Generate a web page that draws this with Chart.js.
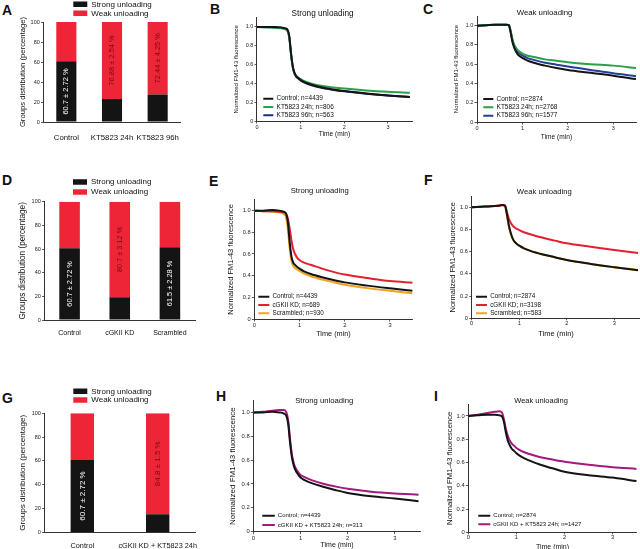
<!DOCTYPE html>
<html><head><meta charset="utf-8">
<script src="https://cdn.jsdelivr.net/npm/chart.js@4.4.0/dist/chart.umd.min.js"></script>
<style>
html,body{margin:0;padding:0;background:#fff;width:640px;height:549px;overflow:hidden;position:relative}
canvas{position:absolute}
.lbl{position:absolute;font:bold 14px "Liberation Sans",Arial,sans-serif;color:#111;line-height:14px}
</style></head><body>
<div class="lbl" style="left:2px;top:3px">A</div>
<div class="lbl" style="left:210px;top:2px">B</div>
<div class="lbl" style="left:423px;top:2px">C</div>
<div class="lbl" style="left:2px;top:173px">D</div>
<div class="lbl" style="left:209px;top:174px">E</div>
<div class="lbl" style="left:424px;top:173px">F</div>
<div class="lbl" style="left:2px;top:391px">G</div>
<div class="lbl" style="left:216px;top:389px">H</div>
<div class="lbl" style="left:434px;top:389px">I</div>
<canvas id="cA"></canvas><canvas id="cB"></canvas><canvas id="cC"></canvas>
<canvas id="cD"></canvas><canvas id="cE"></canvas><canvas id="cF"></canvas>
<canvas id="cG"></canvas><canvas id="cH"></canvas><canvas id="cI"></canvas>
<script>
// ---------- DATA ----------
const timeMin = [0, 0.2, 0.4, 0.55, 0.65, 0.7, 0.74, 0.78, 0.82, 0.86, 0.9, 0.95, 1.0, 1.1, 1.25, 1.5, 1.75, 2.0, 2.5, 3.0, 3.5];
const lineYTickLabels = ['0', '0.2', '0.4', '0.6', '0.8', '1.0'];
const timeTickLabels = ['0', '1', '2', '3'];
const barYTickLabels = ['0', '20', '40', '60', '80', '100'];

const bControl = [1.0, 1.0, 1.0, 0.995, 0.985, 0.97, 0.9, 0.72, 0.58, 0.51, 0.475, 0.455, 0.435, 0.41, 0.385, 0.355, 0.335, 0.318, 0.293, 0.272, 0.255];
const bKT24h   = [1.0, 0.995, 0.99, 0.985, 0.975, 0.955, 0.88, 0.70, 0.57, 0.51, 0.48, 0.46, 0.445, 0.42, 0.397, 0.372, 0.357, 0.345, 0.325, 0.31, 0.30];
const bKT96h   = [1.0, 1.0, 0.995, 0.99, 0.98, 0.96, 0.89, 0.71, 0.57, 0.50, 0.47, 0.45, 0.43, 0.405, 0.38, 0.35, 0.33, 0.315, 0.29, 0.27, 0.255];

const cControl = [1.0, 1.005, 1.01, 1.01, 1.01, 1.005, 0.93, 0.83, 0.77, 0.73, 0.70, 0.68, 0.665, 0.64, 0.615, 0.585, 0.56, 0.54, 0.51, 0.48, 0.445];
const cKT24h   = [1.0, 1.005, 1.01, 1.01, 1.01, 1.005, 0.95, 0.86, 0.80, 0.77, 0.745, 0.725, 0.71, 0.69, 0.675, 0.65, 0.635, 0.62, 0.60, 0.585, 0.56];
const cKT96h   = [1.0, 1.005, 1.01, 1.01, 1.01, 1.005, 0.94, 0.85, 0.79, 0.75, 0.725, 0.705, 0.69, 0.665, 0.645, 0.615, 0.595, 0.575, 0.54, 0.505, 0.475];

const eControl   = [1.0, 1.0, 1.005, 1.0, 0.99, 0.975, 0.9, 0.72, 0.58, 0.52, 0.50, 0.48, 0.465, 0.44, 0.415, 0.385, 0.36, 0.338, 0.308, 0.283, 0.26];
const eCGKII     = [1.0, 0.995, 0.995, 0.99, 0.985, 0.97, 0.93, 0.84, 0.73, 0.645, 0.60, 0.565, 0.545, 0.52, 0.50, 0.465, 0.435, 0.41, 0.378, 0.35, 0.335];
const eScrambled = [1.0, 0.995, 0.99, 0.985, 0.97, 0.94, 0.84, 0.66, 0.54, 0.49, 0.47, 0.455, 0.445, 0.42, 0.395, 0.365, 0.34, 0.317, 0.285, 0.26, 0.237];

const fControl   = [1.0, 1.005, 1.01, 1.015, 1.02, 1.015, 0.94, 0.84, 0.77, 0.72, 0.69, 0.67, 0.655, 0.63, 0.605, 0.575, 0.55, 0.525, 0.49, 0.46, 0.432];
const fCGKII     = [1.0, 1.005, 1.01, 1.015, 1.02, 1.015, 0.96, 0.90, 0.86, 0.835, 0.82, 0.805, 0.795, 0.775, 0.755, 0.725, 0.70, 0.676, 0.645, 0.616, 0.588];
const fScrambled = [1.0, 1.005, 1.01, 1.015, 1.02, 1.01, 0.93, 0.83, 0.765, 0.72, 0.69, 0.67, 0.655, 0.63, 0.605, 0.575, 0.55, 0.525, 0.49, 0.46, 0.435];

const hControl = [1.0, 1.0, 1.005, 1.0, 0.99, 0.97, 0.90, 0.74, 0.62, 0.55, 0.51, 0.48, 0.455, 0.43, 0.405, 0.375, 0.348, 0.325, 0.297, 0.278, 0.256];
const hCombo   = [1.0, 1.005, 1.015, 1.02, 1.02, 1.0, 0.93, 0.77, 0.64, 0.57, 0.53, 0.50, 0.475, 0.455, 0.43, 0.40, 0.378, 0.36, 0.335, 0.32, 0.31];

const iControl = [1.0, 1.005, 1.01, 1.01, 1.005, 0.995, 0.95, 0.86, 0.79, 0.75, 0.72, 0.70, 0.68, 0.65, 0.62, 0.58, 0.55, 0.52, 0.49, 0.47, 0.44];
const iCombo   = [1.0, 1.01, 1.025, 1.035, 1.04, 1.03, 0.97, 0.89, 0.83, 0.79, 0.765, 0.745, 0.725, 0.70, 0.675, 0.645, 0.625, 0.607, 0.58, 0.56, 0.545];

const aCategories = ['Control', 'KT5823 24h', 'KT5823 96h'];
const aStrong = [60.7, 23.12, 27.56];
const aWeak = [39.3, 76.88, 72.44];
const aStrongText = ['60.7 ± 2.72 %', '', ''];
const aWeakText = ['', '76.88 ± 2.54 %', '72.44 ± 4.25 %'];

const dCategories = ['Control', 'cGKII KD', 'Scrambled'];
const dStrong = [60.7, 19.3, 61.5];
const dWeak = [39.3, 80.7, 38.5];
const dStrongText = ['60.7 ± 2.72 %', '', '61.5 ± 2.28 %'];
const dWeakText = ['', '80.7 ± 3.12 %', ''];

const gCategories = ['Control', 'cGKII KD + KT5823 24h'];
const gStrong = [60.7, 15.2];
const gWeak = [39.3, 84.8];
const gStrongText = ['60.7 ± 2.72 %', ''];
const gWeakText = ['', '84.8 ± 1.5 %'];

// ---------- STYLE ----------
const FONT = '"Liberation Sans", Arial, sans-serif';
Chart.defaults.font.family = FONT;
Chart.defaults.color = '#222';
const AX = '#333';
const BLACK = '#141414', RED = '#ee2536', GREEN = '#2e9e48', NAVY = '#1c2d80', BLUE = '#23409a',
      CRED = '#e5202e', ORANGE = '#f0a31c', MAGENTA = '#a3197f', DARKRED = '#7a0a14';

const legendPlace = {
  id: 'legendPlace',
  afterLayout(chart, args, o) {
    const lg = chart.legend;
    if (!lg || o.x == null) return;
    const cl = parseFloat(chart.canvas.style.left), ct = parseFloat(chart.canvas.style.top);
    lg.left = o.x - o.p - cl;
    lg.top = o.y - o.fs / 2 - o.p - ct;
    lg.right = lg.left + 200;
    lg.bottom = lg.top + 1000;
  }
};
const barText = {
  id: 'barText',
  afterDatasetsDraw(chart, args, o) {
    if (!o.texts) return;
    const ctx = chart.ctx;
    o.texts.forEach((arr, di) => {
      const meta = chart.getDatasetMeta(di);
      meta.data.forEach((el, j) => {
        const t = arr[j];
        if (!t) return;
        ctx.save();
        ctx.translate(el.x, (el.y + el.base) / 2);
        ctx.rotate(-Math.PI / 2);
        ctx.fillStyle = o.colors[di];
        ctx.font = o.size + 'px ' + FONT;
        ctx.textAlign = 'center';
        ctx.textBaseline = 'middle';
        ctx.fillText(t, 0, 0);
        ctx.restore();
      });
    });
  }
};

function frame(id, g) {
  const cv = document.getElementById(id);
  const left = Math.floor(g.L - g.yW - g.pl);
  const top = Math.floor(g.T - g.titleH - g.pt);
  const w = Math.ceil(g.R + g.pr - left);
  const h = Math.ceil(g.B + g.xH + g.pb - top);
  cv.width = w; cv.height = h;
  cv.style.left = left + 'px'; cv.style.top = top + 'px';
  cv.style.width = w + 'px'; cv.style.height = h + 'px';
  return {
    cv,
    pad: { left: g.L - g.yW - left, top: g.T - g.titleH - top, right: left + w - g.R, bottom: top + h - g.B - g.xH }
  };
}

function noStroke(chart) {
  return Chart.defaults.plugins.legend.labels.generateLabels(chart).map(l => Object.assign(l, { lineWidth: 0 }));
}

function lineChart(id, g, series) {
  const titlePb = g.T - 0.6 * g.titleFs - g.titleCy;
  g.titleH = 1.2 * g.titleFs + titlePb;
  const fr = frame(id, g);
  new Chart(fr.cv, {
    type: 'line',
    data: {
      datasets: series.map(s => ({
        label: s.label,
        data: timeMin.map((t, i) => ({ x: t, y: s.values[i] })),
        borderColor: s.color, backgroundColor: s.color,
        borderWidth: 2, pointRadius: 0, cubicInterpolationMode: 'monotone', fill: false
      }))
    },
    options: {
      responsive: false, animation: false, devicePixelRatio: 1,
      layout: { padding: fr.pad },
      plugins: {
        title: { display: true, text: g.title, color: '#111',
                 font: { size: g.titleFs, weight: 'normal', lineHeight: 1.2 },
                 padding: { top: 0, bottom: titlePb } },
        legend: { position: 'chartArea', align: 'start',
                  labels: { boxWidth: g.lg.bw, boxHeight: 2, color: '#111', padding: g.lg.sp - g.lg.fs,
                            font: { size: g.lg.fs }, generateLabels: noStroke } },
        tooltip: { enabled: false },
        legendPlace: { x: g.lg.x, y: g.lg.c1, p: g.lg.sp - g.lg.fs, fs: g.lg.fs }
      },
      scales: {
        x: {
          type: 'linear', min: 0, max: g.xmax,
          afterFit: s => { s.height = g.xH; },
          ticks: { stepSize: 1, includeBounds: false, autoSkip: false, maxRotation: 0,
                   font: { size: g.tickFs }, padding: g.xTickPad, color: '#222',
                   callback: (v, i) => timeTickLabels[i] },
          grid: { drawOnChartArea: false, tickLength: g.tickLen, color: AX, lineWidth: 0.8 },
          border: { color: AX, width: 1 },
          title: { display: true, text: 'Time (min)', color: '#111', padding: 0,
                   font: { size: g.xTitleFs, lineHeight: 1.2 } }
        },
        y: {
          min: 0, max: 1.1,
          afterFit: s => { s.width = g.yW; },
          ticks: { stepSize: 0.2, includeBounds: false, font: { size: g.tickFs }, padding: 1.2, color: '#222',
                   callback: (v, i) => lineYTickLabels[i] },
          grid: { drawOnChartArea: false, tickLength: 2.5, color: AX, lineWidth: 0.8 },
          border: { color: AX, width: 1 },
          title: { display: true, text: 'Normalized FM1-43 fluorescence', color: '#111', padding: 0,
                   font: { size: g.yTitleFs, lineHeight: 1.2 } }
        }
      }
    },
    plugins: [legendPlace]
  });
}

function barChart(id, g, cats, strong, weak, strongText, weakText) {
  g.titleH = 0;
  const fr = frame(id, g);
  new Chart(fr.cv, {
    type: 'bar',
    data: {
      labels: cats,
      datasets: [
        { label: 'Strong unloading', data: strong, backgroundColor: BLACK, barPercentage: g.barPct, categoryPercentage: 1 },
        { label: 'Weak unloading', data: weak, backgroundColor: RED, barPercentage: g.barPct, categoryPercentage: 1 }
      ]
    },
    options: {
      responsive: false, animation: false, devicePixelRatio: 1,
      layout: { padding: fr.pad },
      plugins: {
        legend: { position: 'chartArea', align: 'start',
                  labels: { boxWidth: 14, boxHeight: 5.5, color: '#111', padding: g.lg.sp - g.lg.fs,
                            font: { size: g.lg.fs }, generateLabels: noStroke } },
        tooltip: { enabled: false },
        legendPlace: { x: g.lg.x, y: g.lg.c1, p: g.lg.sp - g.lg.fs, fs: g.lg.fs },
        barText: { texts: [strongText, weakText], colors: ['#ffffff', DARKRED], size: g.inFs }
      },
      scales: {
        x: {
          stacked: true,
          afterFit: s => { s.height = g.xH; },
          ticks: { autoSkip: false, maxRotation: 0, minRotation: 0, font: { size: g.catFs }, padding: g.xTickPad, color: '#111' },
          grid: { display: false },
          border: { color: AX, width: 1 }
        },
        y: {
          stacked: true, min: 0, max: 100,
          afterFit: s => { s.width = g.yW; },
          ticks: { stepSize: 20, font: { size: 5.5 }, padding: 1.2, color: '#222',
                   callback: (v, i) => barYTickLabels[i] },
          grid: { drawOnChartArea: false, tickLength: 2.5, color: AX, lineWidth: 0.8 },
          border: { color: AX, width: 1 },
          title: { display: true, text: 'Groups distribution (percentage)', color: '#111', padding: 0,
                   font: { size: g.yTitleFs, lineHeight: 1.2 } }
        }
      }
    },
    plugins: [legendPlace, barText]
  });
}

// ---------- PANELS ----------
barChart('cA', { L: 43.5, T: 22, R: 180.5, B: 122, yW: 25.5, xH: 23, pl: 0, pt: 22, pr: 10, pb: 0,
  barPct: 0.44, catFs: 7.8, xTickPad: 3.4, yTitleFs: 7.7, inFs: 7.5,
  lg: { fs: 8, c1: 4.3, sp: 9, x: 73.3 } }, aCategories, aStrong, aWeak, aStrongText, aWeakText);

barChart('cD', { L: 44.5, T: 201.7, R: 195, B: 320, yW: 26.6, xH: 16, pl: 0, pt: 25.7, pr: 10, pb: 0,
  barPct: 0.41, catFs: 7, xTickPad: 1.1, yTitleFs: 8.2, inFs: 7.4,
  lg: { fs: 8, c1: 182, sp: 10, x: 73 } }, dCategories, dStrong, dWeak, dStrongText, dWeakText);

barChart('cG', { L: 44.6, T: 413.3, R: 195.4, B: 532.3, yW: 26.7, xH: 16.7, pl: 0, pt: 28.3, pr: 12, pb: 0,
  barPct: 0.31, catFs: 7.3, xTickPad: 1.4, yTitleFs: 8.1, inFs: 8,
  lg: { fs: 8, c1: 391.3, sp: 8.6, x: 73.3 } }, gCategories, gStrong, gWeak, gStrongText, gWeakText);

lineChart('cB', { L: 257, T: 17.5, R: 412, B: 121, xmax: 3.55, yW: 23.9, xH: 17, pl: 0, pt: 2, pr: 8.3, pb: 0,
  title: 'Strong unloading', titleFs: 8.2, titleCy: 13.3, yTitleFs: 6, xTitleFs: 6.6, tickFs: 5.5, tickLen: 2.5, xTickPad: 0.5,
  lg: { fs: 6.5, c1: 98.7, sp: 8.3, x: 263.3, bw: 10 } },
  [{ label: 'Control; n=4439', values: bControl, color: BLACK },
   { label: 'KT5823 24h; n=806', values: bKT24h, color: GREEN },
   { label: 'KT5823 96h; n=563', values: bKT96h, color: NAVY }]);

lineChart('cC', { L: 477, T: 16, R: 636, B: 122, xmax: 3.5, yW: 23.9, xH: 18.7, pl: 0, pt: 2, pr: 6.9, pb: 0,
  title: 'Weak unloading', titleFs: 7.8, titleCy: 13.3, yTitleFs: 6, xTitleFs: 6.6, tickFs: 5.5, tickLen: 2.5, xTickPad: 0.5,
  lg: { fs: 6.5, c1: 99, sp: 8.35, x: 483.3, bw: 10 } },
  [{ label: 'Control; n=2874', values: cControl, color: BLACK },
   { label: 'KT5823 24h; n=2768', values: cKT24h, color: GREEN },
   { label: 'KT5823 96h; n=1577', values: cKT96h, color: BLUE }]);

lineChart('cE', { L: 254.3, T: 199.8, R: 412.6, B: 319, xmax: 3.5, yW: 27.5, xH: 19.4, pl: 0, pt: 2, pr: 17.2, pb: 0,
  title: 'Strong unloading', titleFs: 7.7, titleCy: 191, yTitleFs: 7.5, xTitleFs: 7.3, tickFs: 5.7, tickLen: 2.5, xTickPad: 1.0,
  lg: { fs: 6.3, c1: 296.7, sp: 8.3, x: 258.3, bw: 11 } },
  [{ label: 'Control; n=4439', values: eControl, color: BLACK },
   { label: 'cGKII KD; n=689', values: eCGKII, color: CRED },
   { label: 'Scrambled; n=930', values: eScrambled, color: ORANGE }]);

lineChart('cF', { L: 471.7, T: 196.2, R: 640.4, B: 318.3, xmax: 3.55, yW: 23.5, xH: 20.4, pl: 0, pt: 2, pr: 4.8, pb: 0,
  title: 'Weak unloading', titleFs: 7.7, titleCy: 191.7, yTitleFs: 7.5, xTitleFs: 7.5, tickFs: 5.7, tickLen: 2, xTickPad: 0,
  lg: { fs: 6.3, c1: 296.7, sp: 8.3, x: 476, bw: 11 } },
  [{ label: 'Control; n=2874', values: fControl, color: BLACK },
   { label: 'cGKII KD; n=3198', values: fCGKII, color: CRED },
   { label: 'Scrambled; n=583', values: fScrambled, color: ORANGE }]);

lineChart('cH', { L: 253.3, T: 400.5, R: 420.9, B: 531.7, xmax: 3.55, yW: 25.8, xH: 17.7, pl: 0, pt: 2, pr: 11.6, pb: 0,
  title: 'Strong unloading', titleFs: 7.7, titleCy: 400.7, yTitleFs: 8, xTitleFs: 7, tickFs: 5.8, tickLen: 2.5, xTickPad: 1.0,
  lg: { fs: 6, c1: 515.7, sp: 9.3, x: 262.3, bw: 12.5 } },
  [{ label: 'Control; n=4439', values: hControl, color: BLACK },
   { label: 'cGKII KD + KT5823 24h; n=313', values: hCombo, color: MAGENTA }]);

lineChart('cI', { L: 468.3, T: 404.3, R: 636.7, B: 532.3, xmax: 3.5, yW: 22.9, xH: 18.7, pl: 0, pt: 2, pr: 14.5, pb: 0,
  title: 'Weak unloading', titleFs: 7.5, titleCy: 400.7, yTitleFs: 7.7, xTitleFs: 7, tickFs: 5.8, tickLen: 2, xTickPad: 0,
  lg: { fs: 6, c1: 515.7, sp: 8.6, x: 478.3, bw: 12 } },
  [{ label: 'Control; n=2874', values: iControl, color: BLACK },
   { label: 'cGKII KD + KT5823 24h; n=1427', values: iCombo, color: MAGENTA }]);
</script>
</body></html>
